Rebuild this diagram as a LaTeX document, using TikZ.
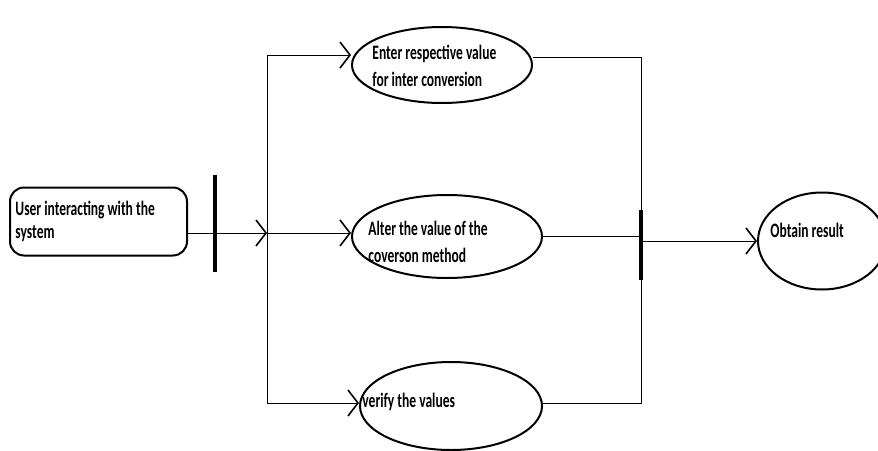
\documentclass[tikz,border=0pt]{standalone}
\usepackage{fontspec}
\newfontfamily\calfont[FakeStretch=0.66]{Carlito}
\usetikzlibrary{arrows.meta,shapes.geometric}

\begin{document}
\begin{tikzpicture}[x=1pt,y=-1pt,line width=0.9pt,
  usecase/.style={draw,ellipse,line width=2pt,inner sep=0},
  bar/.style={fill=black,inner sep=0,minimum width=3.5pt},
  flow/.style={-{Straight Barb[length=10pt,width=26pt,line width=1.6pt]}},
  lbl/.style={anchor=base west,inner sep=0,align=left,font=\calfont\bfseries\fontsize{20.5}{26.5}\selectfont}]
\useasboundingbox (0,0) rectangle (878,450);

% actor box and fork
\node[draw,rounded corners=14pt,line width=2pt,minimum width=177pt,minimum height=68pt,inner sep=0]
  (user) at (98.5,221.5) {};
\node[lbl,font=\calfont\bfseries\fontsize{20.5}{23}\selectfont] (userlbl) at (15,238) {User interacting with the\\system};
\node[bar,minimum height=97pt] (fork) at (215,223.5) {};
\coordinate (split) at (267,233);
\coordinate (top) at (267,55);
\coordinate (bot) at (267,403);

% use cases
\node[usecase,minimum width=180pt,minimum height=76pt] (enter) at (442,65) {};
\node[usecase,minimum width=190pt,minimum height=83pt] (alter) at (447,236.5) {};
\node[usecase,minimum width=182pt,minimum height=88pt] (verify) at (451,406) {};
\node[usecase,minimum width=128pt,minimum height=97pt] (result) at (822,241) {};
\node[lbl] (enterlbl) at (372,86) {Enter respective value\\for inter conversion};
\node[lbl,font=\calfont\bfseries\fontsize{20.5}{27}\selectfont] (alterlbl) at (368,262) {Alter the value of the\\coverson method};
\node[lbl] (verifylbl) at (362,407) {verify the values};
\node[lbl] (resultlbl) at (770,237) {Obtain result};

% join
\node[bar,minimum height=70pt] (join) at (641,245) {};
\coordinate (jtop) at (641,57);
\coordinate (jmid) at (641,236);
\coordinate (jbot) at (641,403);
\coordinate (jout) at (641,241);

\draw[flow] (user.east |- split) -- (split);
\draw (top) -- (bot);
\draw[flow] (top) -- (top -| enter.west);
\draw[flow] (split) -- (split -| alter.west);
\draw[flow] (bot) -- (bot -| verify.west);
\draw (enter.east |- jtop) -- (jtop) -- (jbot) -- (verify.east |- jbot);
\draw (alter.east |- jmid) -- (jmid);
\draw[flow] (jout) -- (jout -| result.west);
\end{tikzpicture}
\end{document}
